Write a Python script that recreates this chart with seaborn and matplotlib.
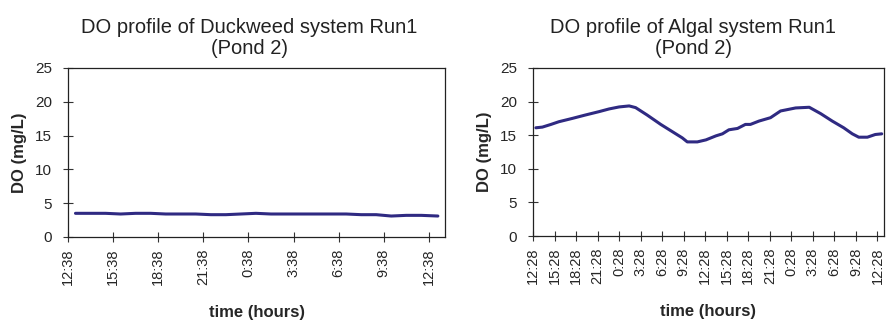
import matplotlib
matplotlib.use("Agg")
import matplotlib.pyplot as plt
import seaborn as sns
import pandas as pd

# Duckweed system, Run1 (Pond 2): hours after 12:38
duck_hours = [0.5, 1.5, 2.5, 3.5, 4.5, 5.5, 6.5, 7.5, 8.5, 9.5, 10.5, 11.5, 12.5,
              13.5, 14.5, 15.5, 16.5, 17.5, 18.5, 19.5, 20.5, 21.5, 22.5, 23.5, 24.6]
duck_do = [3.5, 3.5, 3.5, 3.4, 3.5, 3.5, 3.4, 3.4, 3.4, 3.3, 3.3, 3.4, 3.5,
           3.4, 3.4, 3.4, 3.4, 3.4, 3.4, 3.3, 3.3, 3.1, 3.2, 3.2, 3.1]
duck_ticks = ["12:38", "15:38", "18:38", "21:38", "0:38", "3:38", "6:38", "9:38", "12:38"]

# Algal system, Run1 (Pond 2): hours after 12:28
algal_hours = [0.4, 1.3, 2.5, 3.6, 5.5, 7.3, 9.2, 10.6, 12.0, 13.4, 14.3, 15.9, 17.8,
               19.9, 20.8, 21.5, 22.9, 24.1, 25.5, 26.4, 27.3, 28.5, 29.6, 30.3, 31.5,
               33.1, 34.5, 36.6, 38.5, 40.1, 41.7, 43.3, 44.5, 45.4, 46.6, 47.7, 48.6]
algal_do = [16.1, 16.2, 16.6, 17.0, 17.5, 18.0, 18.5, 18.9, 19.2, 19.35, 19.1, 18.0, 16.6,
            15.2, 14.6, 14.0, 14.0, 14.3, 14.9, 15.2, 15.8, 16.0, 16.6, 16.6, 17.1,
            17.6, 18.6, 19.05, 19.15, 18.2, 17.1, 16.1, 15.2, 14.7, 14.7, 15.1, 15.2]
algal_ticks = ["12:28", "15:28", "18:28", "21:28", "0:28", "3:28", "6:28", "9:28", "12:28",
               "15:28", "18:28", "21:28", "0:28", "3:28", "6:28", "9:28", "12:28"]

sns.set_style("white")
plt.rcParams["font.family"] = ["Liberation Sans", "DejaVu Sans"]

LINE = "#2f2a82"

fig = plt.figure(figsize=(8.86, 3.22), dpi=100)
ax1 = fig.add_axes([0.0767, 0.264, 0.426, 0.525])
ax2 = fig.add_axes([0.6016, 0.267, 0.396, 0.522])

panels = [
    (ax1, duck_hours, duck_do, duck_ticks, 25.1, 0.48,
     "DO profile of Duckweed system Run1\n(Pond 2)"),
    (ax2, algal_hours, algal_do, algal_ticks, 48.9, 0.456,
     "DO profile of Algal system Run1\n(Pond 2)"),
]

for ax, hrs, do, ticks, xmax, tx, title in panels:
    df = pd.DataFrame({"hours": hrs, "DO": do})
    sns.lineplot(data=df, x="hours", y="DO", ax=ax, color=LINE, linewidth=2.2)
    ax.set_xlim(0, xmax)
    ax.set_ylim(0, 25)
    ax.set_xticks([3 * i for i in range(len(ticks))])
    ax.set_xticklabels(ticks, rotation=90, fontsize=10.5)
    ax.set_yticks(range(0, 26, 5))
    ax.tick_params(bottom=True, left=True, direction="inout", length=7,
                   width=0.8, color="#333333")
    ax.tick_params(axis="x", pad=5)
    ax.tick_params(axis="y", labelsize=11, pad=8)
    for s in ax.spines.values():
        s.set_color("#222222")
        s.set_linewidth(0.9)
    ax.set_xlabel("time (hours)", fontsize=12, fontweight="bold", labelpad=14)
    ax.set_ylabel("DO (mg/L)", fontsize=12, fontweight="bold", labelpad=6)
    ax.set_title(title, fontsize=14.5, pad=10, x=tx, color="#222222", linespacing=1.15)

fig.savefig("out.png", dpi=100)
